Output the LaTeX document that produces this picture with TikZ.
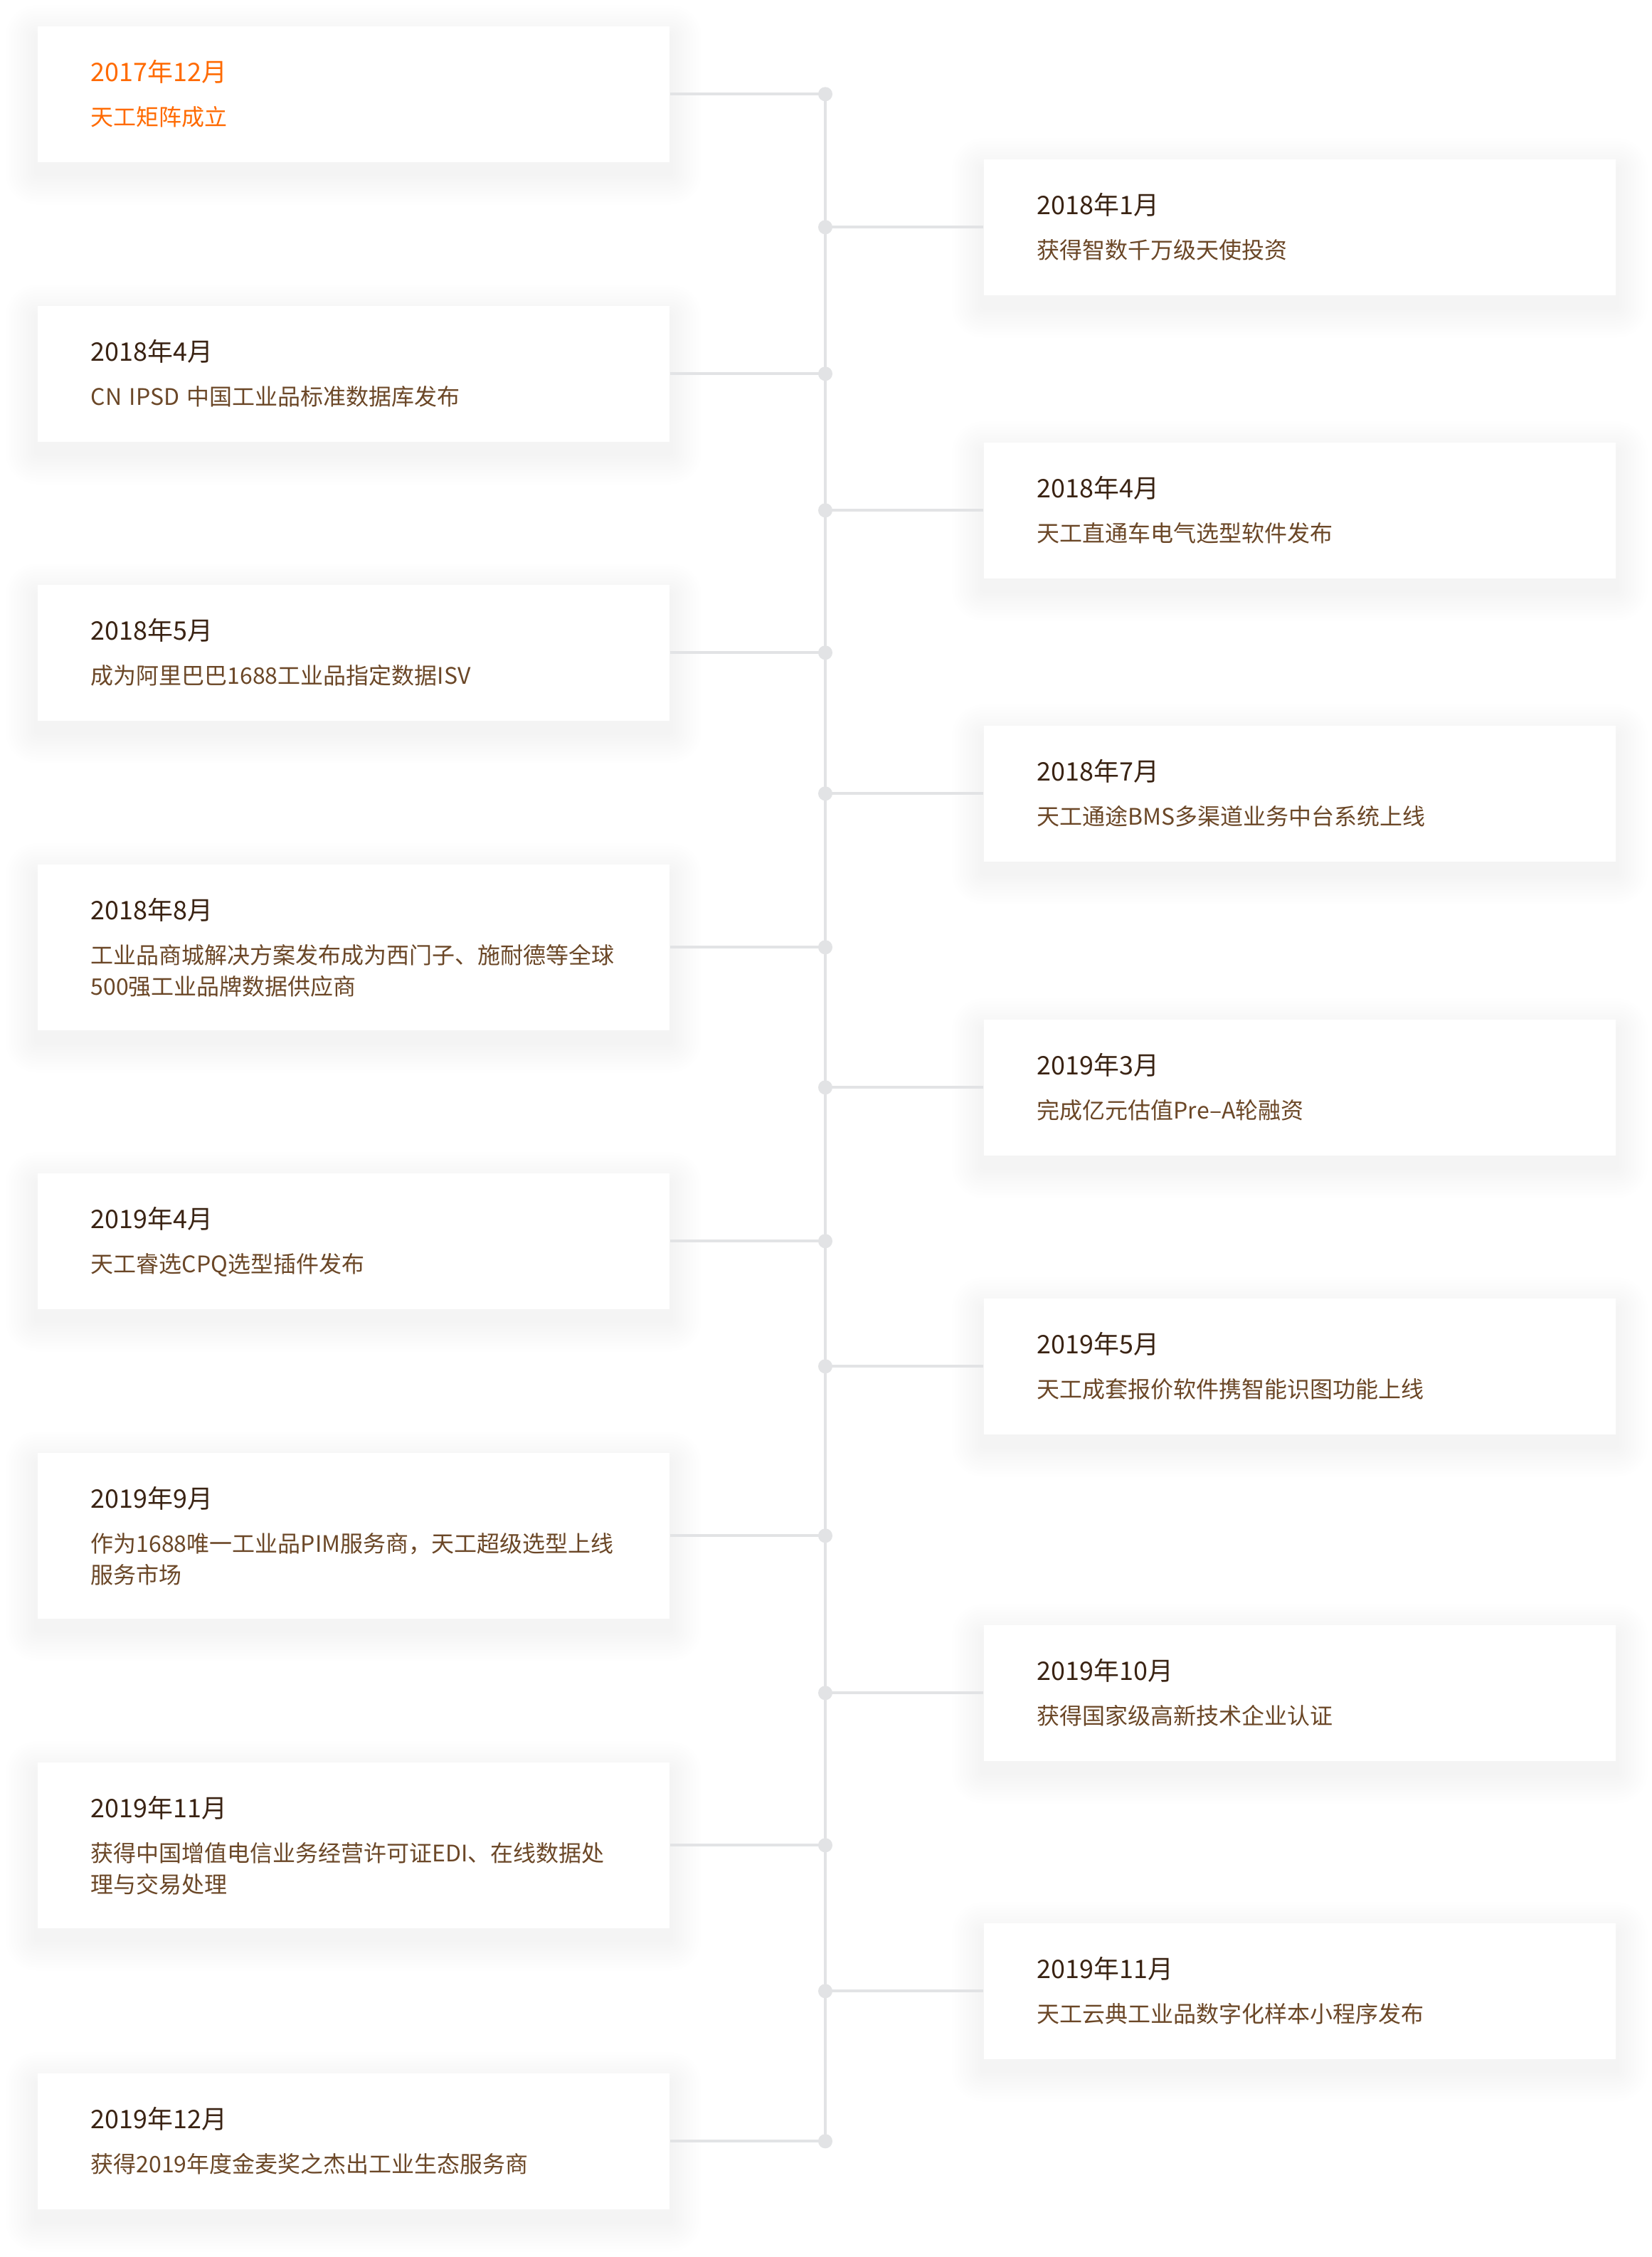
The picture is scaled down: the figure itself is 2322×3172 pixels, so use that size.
\documentclass[tikz,border=0pt]{standalone}
\usepackage{fontspec}
\newfontfamily\cjk{Noto Sans CJK SC}
\usetikzlibrary{positioning}

\definecolor{datebrown}{HTML}{3A2313}
\definecolor{descbrown}{HTML}{6B4727}
\definecolor{hlorange}{HTML}{FF6A00}
\definecolor{linegray}{HTML}{E2E3E5}
\definecolor{shadetone}{HTML}{5A3A20}

\pgfdeclarelayer{background}
\pgfsetlayers{background,main}

\begin{document}
\begin{tikzpicture}[x=0.01cm, y=-0.01cm,
    card/.style={rectangle, fill=white, anchor=north west, inner sep=0pt,
        minimum width=8.88cm, minimum height=1.91cm},
    tallcard/.style={card, minimum height=2.33cm},
    cardshade/.style={fill=shadetone, opacity=0.005},
    datetext/.style={anchor=base west, inner sep=0pt, text=datebrown,
        font=\cjk\fontsize{10.2pt}{12pt}\selectfont},
    desctext/.style={anchor=base west, inner sep=0pt, text=descbrown, text width=8cm, align=left,
        font=\cjk\fontsize{9.1pt}{12.65pt}\selectfont},
    link/.style={linegray, line width=0.04cm},
    knot/.style={fill=linegray}]

    \useasboundingbox (0,0) rectangle (2322,3172);

    % --- 左侧卡片 ---
    \node[card] (l1) at (52,36) {};
    \node[card] (l2) at (52,429) {};
    \node[card] (l3) at (52,821) {};
    \node[tallcard] (l4) at (52,1214) {};
    \node[card] (l5) at (52,1648) {};
    \node[tallcard] (l6) at (52,2041) {};
    \node[tallcard] (l7) at (52,2476) {};
    \node[card] (l8) at (52,2913) {};

    % --- 右侧卡片 ---
    \node[card] (r1) at (1382,223) {};
    \node[card] (r2) at (1382,621) {};
    \node[card] (r3) at (1382,1019) {};
    \node[card] (r4) at (1382,1432) {};
    \node[card] (r5) at (1382,1824) {};
    \node[card] (r6) at (1382,2283) {};
    \node[card] (r7) at (1382,2702) {};

    % 卡片阴影（背景层）
    \begin{pgfonlayer}{background}
        \fill[white] (0,0) rectangle (2322,3172);
        \foreach \c in {l1,l2,l3,l4,l5,l6,l7,l8,r1,r2,r3,r4,r5,r6,r7}
            \foreach \r in {0.04,0.08,...,0.48}
                \fill[cardshade, rounded corners=\r cm]
                    ([xshift=-\r cm, yshift={(\r-0.15)*1cm}]\c.north west) rectangle
                    ([xshift=\r cm, yshift={(-\r-0.15)*1cm}]\c.south east);
    \end{pgfonlayer}

    % 日期与说明（左）
    \node[datetext, text=hlorange] (l1d) at ([shift={(75,78)}]l1.north west) {2017年12月};
    \node[desctext, text=hlorange] (l1t) at ([shift={(75,140)}]l1.north west) {天工矩阵成立};
    \node[datetext] (l2d) at ([shift={(75,78)}]l2.north west) {2018年4月};
    \node[desctext] (l2t) at ([shift={(75,140)}]l2.north west) {CN IPSD 中国工业品标准数据库发布};
    \node[datetext] (l3d) at ([shift={(75,78)}]l3.north west) {2018年5月};
    \node[desctext] (l3t) at ([shift={(75,140)}]l3.north west) {成为阿里巴巴1688工业品指定数据ISV};
    \node[datetext] (l4d) at ([shift={(75,78)}]l4.north west) {2018年8月};
    \node[desctext] (l4t) at ([shift={(75,140)}]l4.north west) {工业品商城解决方案发布成为西门子、施耐德等全球\\500强工业品牌数据供应商};
    \node[datetext] (l5d) at ([shift={(75,78)}]l5.north west) {2019年4月};
    \node[desctext] (l5t) at ([shift={(75,140)}]l5.north west) {天工睿选CPQ选型插件发布};
    \node[datetext] (l6d) at ([shift={(75,78)}]l6.north west) {2019年9月};
    \node[desctext] (l6t) at ([shift={(75,140)}]l6.north west) {作为1688唯一工业品PIM服务商，天工超级选型上线\\服务市场};
    \node[datetext] (l7d) at ([shift={(75,78)}]l7.north west) {2019年11月};
    \node[desctext] (l7t) at ([shift={(75,140)}]l7.north west) {获得中国增值电信业务经营许可证EDI、在线数据处\\理与交易处理};
    \node[datetext] (l8d) at ([shift={(75,78)}]l8.north west) {2019年12月};
    \node[desctext] (l8t) at ([shift={(75,140)}]l8.north west) {获得2019年度金麦奖之杰出工业生态服务商};

    % 日期与说明（右）
    \node[datetext] (r1d) at ([shift={(75,78)}]r1.north west) {2018年1月};
    \node[desctext] (r1t) at ([shift={(75,140)}]r1.north west) {获得智数千万级天使投资};
    \node[datetext] (r2d) at ([shift={(75,78)}]r2.north west) {2018年4月};
    \node[desctext] (r2t) at ([shift={(75,140)}]r2.north west) {天工直通车电气选型软件发布};
    \node[datetext] (r3d) at ([shift={(75,78)}]r3.north west) {2018年7月};
    \node[desctext] (r3t) at ([shift={(75,140)}]r3.north west) {天工通途BMS多渠道业务中台系统上线};
    \node[datetext] (r4d) at ([shift={(75,78)}]r4.north west) {2019年3月};
    \node[desctext] (r4t) at ([shift={(75,140)}]r4.north west) {完成亿元估值Pre–A轮融资};
    \node[datetext] (r5d) at ([shift={(75,78)}]r5.north west) {2019年5月};
    \node[desctext] (r5t) at ([shift={(75,140)}]r5.north west) {天工成套报价软件携智能识图功能上线};
    \node[datetext] (r6d) at ([shift={(75,78)}]r6.north west) {2019年10月};
    \node[desctext] (r6t) at ([shift={(75,140)}]r6.north west) {获得国家级高新技术企业认证};
    \node[datetext] (r7d) at ([shift={(75,78)}]r7.north west) {2019年11月};
    \node[desctext] (r7t) at ([shift={(75,140)}]r7.north west) {天工云典工业品数字化样本小程序发布};

    % --- 时间轴 ---
    \coordinate (axis) at (1160,0);
    \coordinate (kl1) at (l1.east -| axis);
    \coordinate (kl2) at (l2.east -| axis);
    \coordinate (kl3) at (l3.east -| axis);
    \coordinate (kl4) at (l4.east -| axis);
    \coordinate (kl5) at (l5.east -| axis);
    \coordinate (kl6) at (l6.east -| axis);
    \coordinate (kl7) at (l7.east -| axis);
    \coordinate (kl8) at (l8.east -| axis);
    \coordinate (kr1) at (r1.west -| axis);
    \coordinate (kr2) at (r2.west -| axis);
    \coordinate (kr3) at (r3.west -| axis);
    \coordinate (kr4) at (r4.west -| axis);
    \coordinate (kr5) at (r5.west -| axis);
    \coordinate (kr6) at (r6.west -| axis);
    \coordinate (kr7) at (r7.west -| axis);

    % 竖直主轴
    \draw[link] (kl1) -- (kl8);

    % 水平分支
    \draw[link] (l1.east) -- (kl1);
    \draw[link] (l2.east) -- (kl2);
    \draw[link] (l3.east) -- (kl3);
    \draw[link] (l4.east) -- (kl4);
    \draw[link] (l5.east) -- (kl5);
    \draw[link] (l6.east) -- (kl6);
    \draw[link] (l7.east) -- (kl7);
    \draw[link] (l8.east) -- (kl8);
    \draw[link] (kr1) -- (r1.west);
    \draw[link] (kr2) -- (r2.west);
    \draw[link] (kr3) -- (r3.west);
    \draw[link] (kr4) -- (r4.west);
    \draw[link] (kr5) -- (r5.west);
    \draw[link] (kr6) -- (r6.west);
    \draw[link] (kr7) -- (r7.west);

    % 节点圆点
    \fill[knot] (kl1) circle (0.1cm);
    \fill[knot] (kl2) circle (0.1cm);
    \fill[knot] (kl3) circle (0.1cm);
    \fill[knot] (kl4) circle (0.1cm);
    \fill[knot] (kl5) circle (0.1cm);
    \fill[knot] (kl6) circle (0.1cm);
    \fill[knot] (kl7) circle (0.1cm);
    \fill[knot] (kl8) circle (0.1cm);
    \fill[knot] (kr1) circle (0.1cm);
    \fill[knot] (kr2) circle (0.1cm);
    \fill[knot] (kr3) circle (0.1cm);
    \fill[knot] (kr4) circle (0.1cm);
    \fill[knot] (kr5) circle (0.1cm);
    \fill[knot] (kr6) circle (0.1cm);
    \fill[knot] (kr7) circle (0.1cm);

\end{tikzpicture}
\end{document}
